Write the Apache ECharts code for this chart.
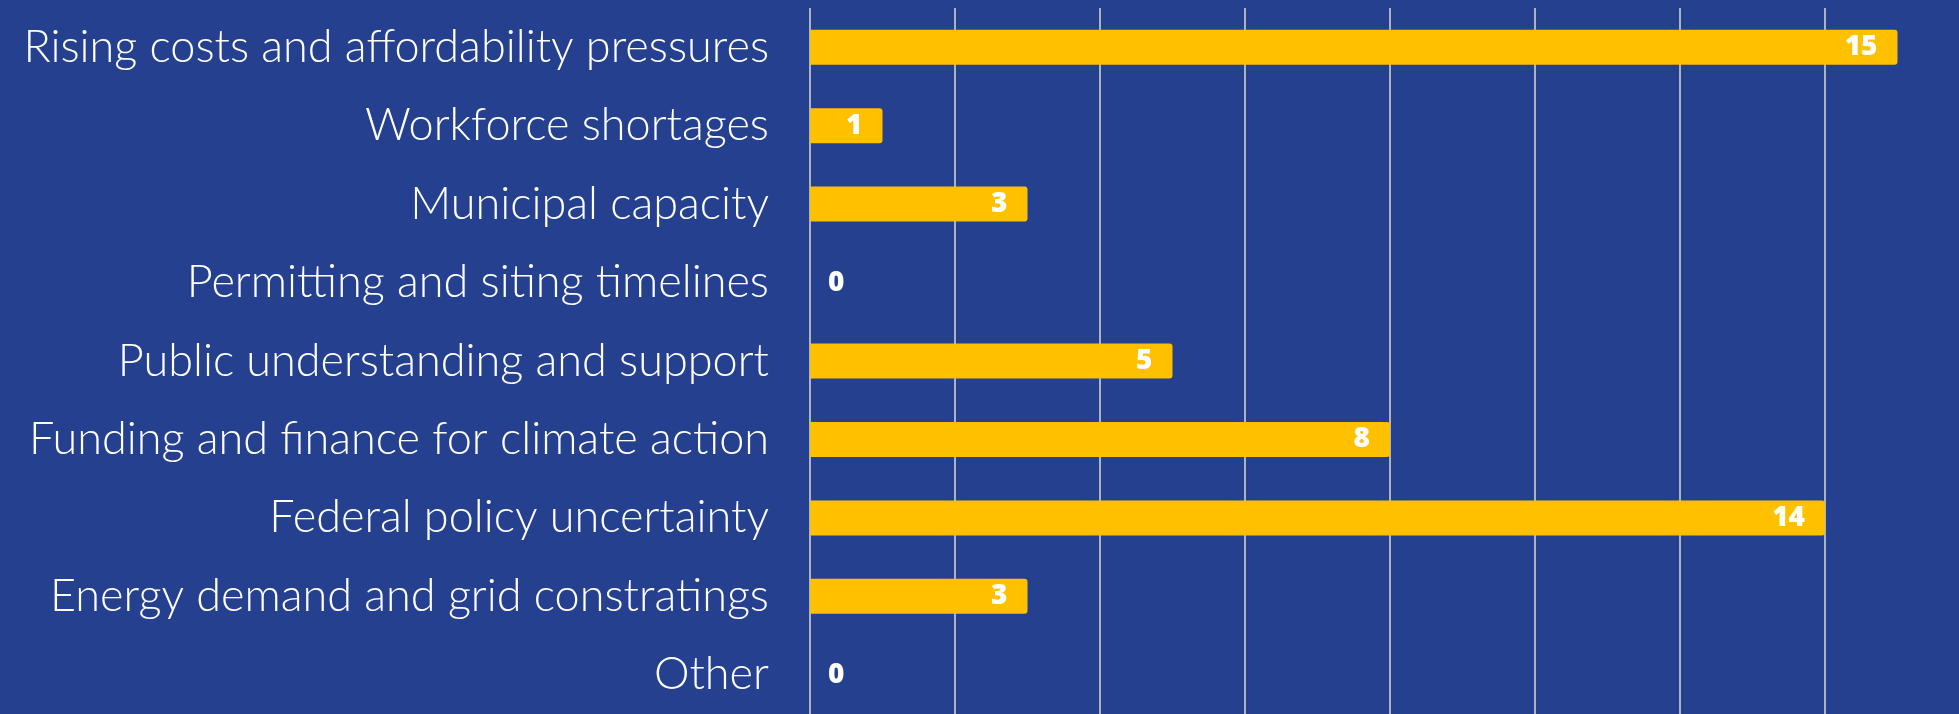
<!DOCTYPE html>
<html>
<head>
<meta charset="utf-8">
<script src="https://cdn.jsdelivr.net/npm/echarts@6/dist/echarts.min.js"></script>
<style>
html,body{margin:0;padding:0;background:#25408F;overflow:hidden;}
#c{width:1970px;height:714px;}
</style>
</head>
<body>
<div id="c"></div>
<script>
var categories = [
  "Rising costs and affordability pressures",
  "Workforce shortages",
  "Municipal capacity",
  "Permitting and siting timelines",
  "Public understanding and support",
  "Funding and finance for climate action",
  "Federal policy uncertainty",
  "Energy demand and grid constratings",
  "Other"
];
var values = [15, 1, 3, 0, 5, 8, 14, 3, 0];

var chart = echarts.init(document.getElementById('c'), null, {renderer: 'canvas'});
var seriesData = values.map(function (v) {
  var item = {value: v};
  if (v === 0) {
    item.label = {position: 'right', distance: 18};
  }
  return item;
});
chart.setOption({
  backgroundColor: '#25408F',
  animation: false,
  grid: {left: 810, right: 0, top: 8, bottom: -1, containLabel: false},
  xAxis: {
    type: 'value', min: 0, max: 16, interval: 2,
    axisLabel: {show: false},
    axisLine: {show: false},
    axisTick: {show: false},
    splitLine: {show: true, lineStyle: {color: '#d9d9d9', width: 1.5}}
  },
  yAxis: {
    type: 'category', data: categories, inverse: true,
    axisLine: {show: false},
    axisTick: {show: false},
    axisLabel: {
      color: '#ffffff', fontFamily: 'Lato', fontWeight: 300, fontSize: 45,
      margin: 41
    }
  },
  series: [{
    type: 'bar',
    data: seriesData,
    barWidth: 35,
    itemStyle: {color: '#FFC000', borderRadius: [0, 3, 3, 0]},
    label: {
      show: true, position: 'insideRight', distance: 20,
      color: '#ffffff', fontFamily: 'Open Sans', fontWeight: 800, fontSize: 28
    }
  }]
});
</script>
</body>
</html>
